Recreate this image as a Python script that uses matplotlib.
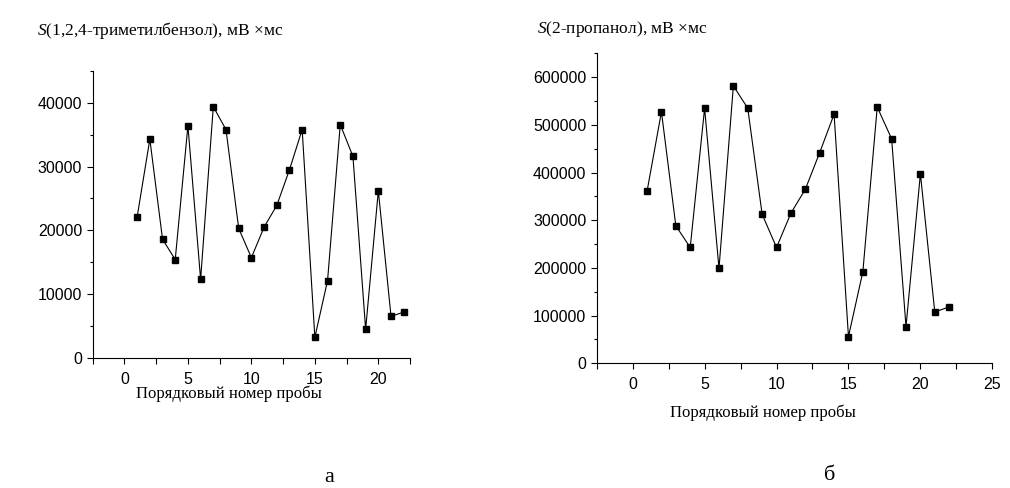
import matplotlib
matplotlib.use("Agg")
import matplotlib.pyplot as plt
from matplotlib.ticker import MultipleLocator

plt.rcParams['font.family'] = ['Liberation Sans', 'DejaVu Sans']
plt.rcParams['mathtext.fontset'] = 'custom'
plt.rcParams['mathtext.it'] = 'Liberation Serif:italic'
plt.rcParams['mathtext.rm'] = 'Liberation Serif'

# номера проб
n = list(range(1, 23))
# площади пиков, мВ*мс
tmb = [22100, 34300, 18600, 15400, 36400, 12300, 39400, 35800, 20300, 15700, 20500,
       23900, 29500, 35800, 3200, 12100, 36600, 31600, 4450, 26200, 6500, 7150]
propanol = [361000, 527500, 288500, 243000, 535000, 199000, 582000, 535000, 312500,
            243000, 315000, 365000, 442000, 522500, 56000, 192000, 537500, 471000,
            77000, 397500, 107500, 118500]

titles = [r"$\mathit{S}$(1,2,4-триметилбензол), мВ ×мс", r"$\mathit{S}$(2-пропанол), мВ ×мс"]
xlabel = "Порядковый номер пробы"
letters = ["а", "б"]

fig = plt.figure(figsize=(10.10, 4.88), dpi=100)
ax1 = fig.add_axes([0.0918, 0.267, 0.3142, 0.5875])
ax2 = fig.add_axes([0.5908, 0.2555, 0.3917, 0.635])

for ax, data, ylim, xlim, ystep in [(ax1, tmb, 45000, 22.5, 10000), (ax2, propanol, 650000, 25, 100000)]:
    ax.plot(n, data, color='black', lw=0.8, marker='s', ms=3.8, mfc='black', mec='black')
    ax.set_xlim(-2.5, xlim)
    ax.set_ylim(0, ylim)
    ax.spines['top'].set_visible(False)
    ax.spines['right'].set_visible(False)
    for s in ['left', 'bottom']:
        ax.spines[s].set_linewidth(0.8)
    ax.xaxis.set_major_locator(MultipleLocator(5))
    ax.xaxis.set_minor_locator(MultipleLocator(2.5))
    ax.yaxis.set_major_locator(MultipleLocator(ystep))
    ax.yaxis.set_minor_locator(MultipleLocator(ystep / 2))
    ax.tick_params(which='major', direction='out', length=4, width=0.8, labelsize=11.5)
    ax.tick_params(axis='x', which='minor', direction='out', length=4, width=0.8)
    ax.tick_params(axis='y', which='minor', direction='out', length=2.5, width=0.8)
    ax.tick_params(axis='x', pad=6)

fig.text(37 / 1010, 1 - 35 / 488, titles[0], fontsize=12.5, family='Liberation Serif', va='baseline')
fig.text(537 / 1010, 1 - 33 / 488, titles[1], fontsize=12.5, family='Liberation Serif', va='baseline')

fig.text(229 / 1010, 1 - 394 / 488, xlabel, fontsize=12, family='Liberation Serif', ha='center', va='center')
fig.text(763 / 1010, 1 - 413 / 488, xlabel, fontsize=12, family='Liberation Serif', ha='center', va='center')

fig.text(329 / 1010, 1 - 478 / 488, letters[0], fontsize=16, family='Liberation Serif', ha='center', va='center')
fig.text(830 / 1010, 1 - 476 / 488, letters[1], fontsize=16, family='Liberation Serif', ha='center', va='center')

fig.savefig("out.png", dpi=100)
